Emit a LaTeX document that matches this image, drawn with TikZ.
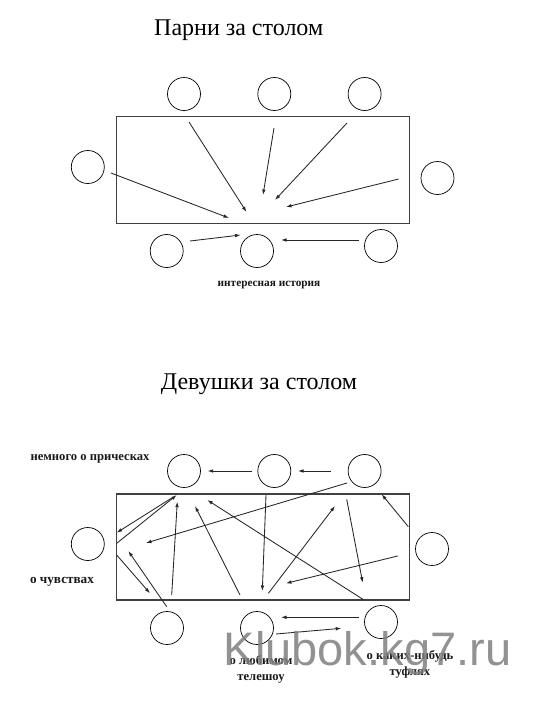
\documentclass[tikz,border=0pt]{standalone}
\usepackage{fontspec}
\setmainfont{Liberation Serif}
\newfontfamily\wmfont{Liberation Sans}
\usetikzlibrary{arrows.meta}
\tikzset{
  seat/.style={circle,draw=black,line width=0.7pt,minimum size=33pt,inner sep=0pt},
  tablebox/.style={draw=black!75,line width=1.2pt,minimum width=293.4pt,inner sep=0pt},
  arr/.style={draw=black!85,line width=0.85pt,-{Latex[length=5.5pt,width=3.6pt]}},
  ttl/.style={font=\fontsize{24}{28}\selectfont,inner sep=0pt},
  lbl/.style={font=\bfseries\fontsize{12.6}{16}\selectfont,inner sep=0pt,align=center,text=black!90},
  wm/.style={font=\wmfont\fontsize{47}{50}\selectfont,text=black!50,opacity=0.85,inner sep=0pt}
}
\begin{document}
\begin{tikzpicture}[x=1pt,y=-1pt]
\useasboundingbox[fill=white] (0,0) rectangle (543,705);

% ===== Top: boys =====
\node[ttl] (title1) at (238.7,30) {Парни за столом};
\node[tablebox,minimum height=106.6pt] (table1) at (263,170) {};
\node[seat] (b1) at (184,94) {};
\node[seat] (b2) at (274.3,94) {};
\node[seat] (b3) at (364.6,94) {};
\node[seat] (b4) at (87.8,167) {};
\node[seat] (b5) at (437.5,178) {};
\node[seat] (b6) at (166.7,251) {};
\node[seat] (b7) at (257,251) {};
\node[seat] (b8) at (381,246) {};
\node[lbl,font=\bfseries\fontsize{11.3}{13}\selectfont] (story) at (269,285) {интересная история};

\coordinate (u1s) at (111,173);   \coordinate (u1e) at (229,218);
\coordinate (u2s) at (189,122);   \coordinate (u2e) at (246.5,212);
\coordinate (u3s) at (274,128);   \coordinate (u3e) at (263,195);
\coordinate (u4s) at (347,123);   \coordinate (u4e) at (275,200);
\coordinate (u5s) at (398.6,179); \coordinate (u5e) at (286,207);
\coordinate (u6s) at (190,241);   \coordinate (u6e) at (240.6,235);
\coordinate (u7s) at (358.7,240); \coordinate (u7e) at (281,240);
\foreach \i in {1,...,7} \draw[arr] (u\i s) -- (u\i e);

% ===== Bottom: girls =====
\node[ttl] (title2) at (259,384) {Девушки за столом};
\node[tablebox,minimum height=106pt] (table2) at (263,547) {};
\node[seat] (g1) at (184,471) {};
\node[seat] (g2) at (274.3,471) {};
\node[seat] (g3) at (364.6,471) {};
\node[seat] (g4) at (87.8,544) {};
\node[seat] (g5) at (432,549) {};
\node[seat] (g6) at (167,628) {};
\node[seat] (g7) at (257,628) {};
\node[seat] (g8) at (381,622) {};

\node[lbl] (hair) at (90,459) {немного о прическах};
\node[lbl,font=\bfseries\fontsize{13.2}{16}\selectfont] (feel) at (62,582) {о чувствах};
\node[lbl] (tv) at (261,669.5) {о любимом\\телешоу};
\node[lbl] (shoes) at (410,664.5) {о каких-нибудь\\туфлях};

\coordinate (v1s) at (252,471);   \coordinate (v1e) at (207.6,471);
\coordinate (v2s) at (331,471);   \coordinate (v2e) at (298,471);
\coordinate (v3s) at (347,483);   \coordinate (v3e) at (146,543);
\coordinate (v4s) at (171.7,498); \coordinate (v4e) at (116.7,532.7);
\coordinate (v5s) at (116.7,543.3); \coordinate (v5e) at (176.7,495);
\coordinate (v6s) at (116.7,555); \coordinate (v6e) at (150,593.3);
\coordinate (v7s) at (166.7,606.7); \coordinate (v7e) at (128.3,551);
\coordinate (v8s) at (171.7,595); \coordinate (v8e) at (177.3,501.7);
\coordinate (v9s) at (240,595);   \coordinate (v9e) at (195,506);
\coordinate (v10s) at (364,600);  \coordinate (v10e) at (207.3,500);
\coordinate (v11s) at (266,495);  \coordinate (v11e) at (262.3,591);
\coordinate (v12s) at (268.4,593.3); \coordinate (v12e) at (335,506);
\coordinate (v13s) at (346.7,499.3); \coordinate (v13e) at (362.7,582.7);
\coordinate (v14s) at (397.7,556); \coordinate (v14e) at (286,583.3);
\coordinate (v15s) at (408.3,526.7); \coordinate (v15e) at (381.7,494.3);
\coordinate (v16s) at (358.7,617.3); \coordinate (v16e) at (281,617.3);
\coordinate (v17s) at (276,634);  \coordinate (v17e) at (341.3,628.3);
\foreach \i in {1,...,17} \draw[arr] (v\i s) -- (v\i e);

% watermark
\node[wm,anchor=base] (mark) at (367.5,665) {Klubok.kg7.ru};
\end{tikzpicture}
\end{document}
